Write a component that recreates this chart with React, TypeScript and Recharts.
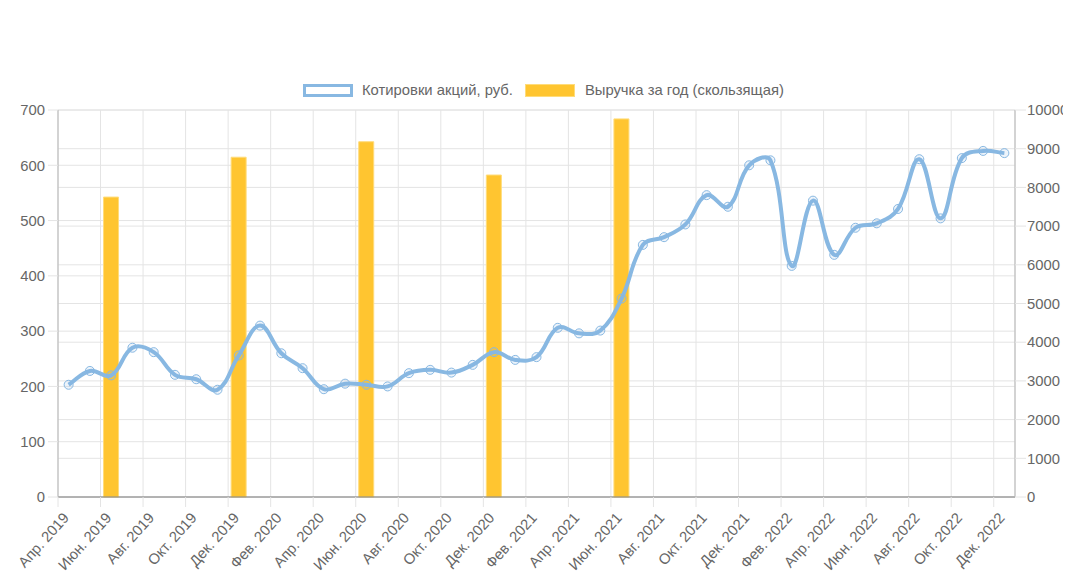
import React from 'react'
import {
  ComposedChart,
  Line,
  Bar,
  XAxis,
  YAxis,
  CartesianGrid,
} from 'recharts'

// months of the quote series, April 2019 .. December 2022
const MONTHS = [
  'Апр. 2019', 'Май 2019', 'Июн. 2019', 'Июл. 2019', 'Авг. 2019', 'Сен. 2019',
  'Окт. 2019', 'Ноя. 2019', 'Дек. 2019', 'Янв. 2020', 'Фев. 2020', 'Мар. 2020',
  'Апр. 2020', 'Май 2020', 'Июн. 2020', 'Июл. 2020', 'Авг. 2020', 'Сен. 2020',
  'Окт. 2020', 'Ноя. 2020', 'Дек. 2020', 'Янв. 2021', 'Фев. 2021', 'Мар. 2021',
  'Апр. 2021', 'Май 2021', 'Июн. 2021', 'Июл. 2021', 'Авг. 2021', 'Сен. 2021',
  'Окт. 2021', 'Ноя. 2021', 'Дек. 2021', 'Янв. 2022', 'Фев. 2022', 'Мар. 2022',
  'Апр. 2022', 'Май 2022', 'Июн. 2022', 'Июл. 2022', 'Авг. 2022', 'Сен. 2022',
  'Окт. 2022', 'Ноя. 2022', 'Дек. 2022',
]

const PRICE = [
  203, 228, 220, 270, 262, 221, 213, 194, 256, 310, 260, 233,
  195, 205, 203, 200, 224, 230, 225, 239, 262, 248, 253, 306,
  296, 301, 359, 456, 470, 493, 546, 525, 600, 609, 418, 536,
  438, 487, 495, 521, 611, 504, 613, 626, 622,
]

const REVENUE_MONTHS = ['Июн. 2019', 'Дек. 2019', 'Июн. 2020', 'Дек. 2020', 'Июн. 2021']
const REVENUE = [7750, 8780, 9180, 8320, 9770]

const LEFT_TICKS = [0, 100, 200, 300, 400, 500, 600, 700]
const RIGHT_TICKS = [0, 1000, 2000, 3000, 4000, 5000, 6000, 7000, 8000, 9000, 10000]
// a label every second month, on the first day of it
const X_TICKS = MONTHS.map((_, i) => i).filter((i) => i % 2 === 0)

const BLUE = '#88b8e2'
const YELLOW = '#ffc530'
const GRID = '#e4e4e4'
const TEXT = '#666'
const FONT = '"Liberation Sans", Arial, sans-serif'
const FS = 14.8

// points sit in the middle of their month
const data = MONTHS.map((m, i) => {
  const r = REVENUE_MONTHS.indexOf(m)
  return { x: i + 0.5, month: m, price: PRICE[i], revenue: r >= 0 ? REVENUE[r] : null }
})

// same bezier spline chart.js uses (tension 0.4)
const TENSION = 0.4
function chartJsCurve(context: any) {
  let pts: number[][] = []
  return {
    areaStart() {},
    areaEnd() {},
    lineStart() {
      pts = []
    },
    point(x: number, y: number) {
      pts.push([+x, +y])
    },
    lineEnd() {
      const n = pts.length
      if (!n) return
      const cps = pts.map((cur, i) => {
        const prev = pts[i - 1] || cur
        const next = pts[i + 1] || cur
        const d01 = Math.hypot(cur[0] - prev[0], cur[1] - prev[1])
        const d12 = Math.hypot(next[0] - cur[0], next[1] - cur[1])
        const sum = d01 + d12
        const fa = TENSION * (sum ? d01 / sum : 0)
        const fb = TENSION * (sum ? d12 / sum : 0)
        return {
          before: [cur[0] - fa * (next[0] - prev[0]), cur[1] - fa * (next[1] - prev[1])],
          after: [cur[0] + fb * (next[0] - prev[0]), cur[1] + fb * (next[1] - prev[1])],
        }
      })
      context.moveTo(pts[0][0], pts[0][1])
      for (let i = 1; i < n; i++) {
        const a = cps[i - 1].after
        const b = cps[i].before
        context.bezierCurveTo(a[0], a[1], b[0], b[1], pts[i][0], pts[i][1])
      }
    },
  }
}

const MonthTick = ({ x, y, payload }: any) => {
  const tx = x + 8
  const ty = y + 8
  return (
    <text
      x={tx}
      y={ty}
      dy="0.35em"
      textAnchor="end"
      transform={`rotate(-48 ${tx} ${ty})`}
      fill={TEXT}
      fontSize={FS}
      fontFamily={FONT}
    >
      {MONTHS[payload.value]}
    </text>
  )
}

const LegendBar = () => (
  <div
    style={{
      position: 'absolute',
      top: 74,
      left: 295,
      display: 'flex',
      alignItems: 'center',
      fontFamily: FONT,
      fontSize: FS,
      color: TEXT,
      whiteSpace: 'nowrap',
    }}
  >
    <div
      style={{
        width: 50,
        height: 13,
        boxSizing: 'border-box',
        border: `3px solid ${BLUE}`,
        background: '#fff',
        marginRight: 9,
      }}
    />
    <span style={{ marginRight: 12 }}>Котировки акций, руб.</span>
    <div
      style={{
        width: 50,
        height: 13,
        boxSizing: 'border-box',
        border: '1px solid #ffdc7a',
        background: YELLOW,
        marginRight: 10,
      }}
    />
    <span>Выручка за год (скользящая)</span>
  </div>
)

export default function App() {
  return (
    <div style={{ position: 'relative', width: 1063, height: 574 }}>
      <LegendBar />
      <ComposedChart
        width={1063}
        height={574}
        data={data}
        margin={{ top: 102, right: 6, bottom: 25, left: 0 }}
      >
        <CartesianGrid yAxisId="left" stroke={GRID} strokeWidth={1} />
        <CartesianGrid yAxisId="right" vertical={false} stroke={GRID} strokeWidth={1} />
        <XAxis
          dataKey="x"
          type="number"
          domain={[0, 45]}
          ticks={X_TICKS}
          interval={0}
          height={60}
          tickSize={10}
          tickMargin={0}
          tickLine={{ stroke: GRID }}
          axisLine={{ stroke: '#7a7a7a' }}
          tick={<MonthTick />}
        />
        <YAxis
          yAxisId="left"
          orientation="left"
          domain={[0, 700]}
          ticks={LEFT_TICKS}
          width={50}
          tickSize={10}
          tickMargin={3}
          tickLine={{ stroke: GRID }}
          axisLine={{ stroke: '#b5b5b5' }}
          tick={{ fill: TEXT, fontSize: FS, fontFamily: FONT }}
        />
        <YAxis
          yAxisId="right"
          orientation="right"
          domain={[0, 10000]}
          ticks={RIGHT_TICKS}
          width={50}
          tickSize={11}
          tickMargin={1}
          tickLine={{ stroke: GRID }}
          axisLine={{ stroke: '#b5b5b5' }}
          tick={{ fill: TEXT, fontSize: FS, fontFamily: FONT }}
        />
        <Bar
          yAxisId="right"
          dataKey="revenue"
          name="Выручка за год (скользящая)"
          barSize={15}
          fill={YELLOW}
          stroke="#ffdc7a"
          strokeWidth={1}
          isAnimationActive={false}
        />
        <Line
          yAxisId="left"
          dataKey="price"
          name="Котировки акций, руб."
          type={chartJsCurve as any}
          stroke={BLUE}
          strokeWidth={4}
          dot={{ r: 4.5, stroke: BLUE, strokeWidth: 1, fill: 'rgba(136,184,226,0.15)' }}
          isAnimationActive={false}
        />
      </ComposedChart>
    </div>
  )
}
